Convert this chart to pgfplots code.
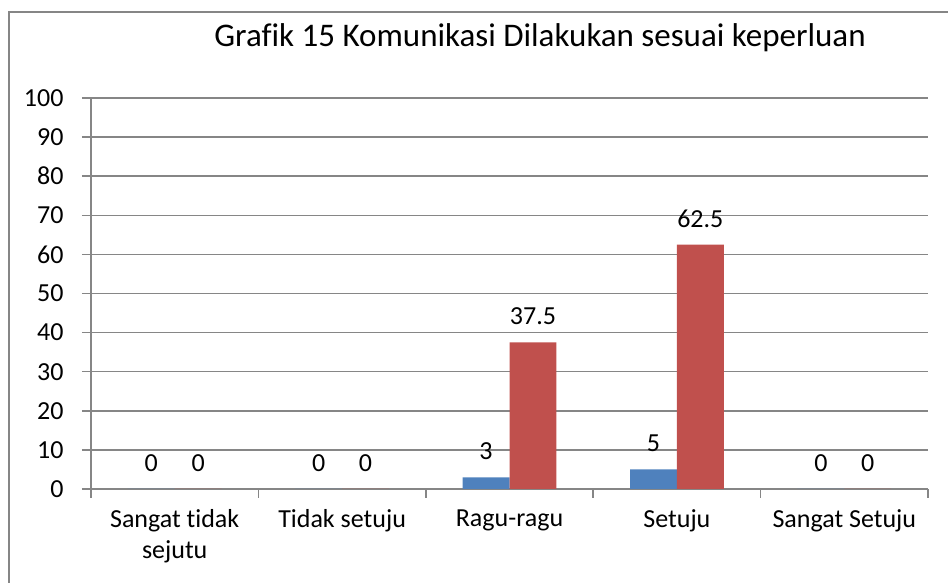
\documentclass[border=0pt]{standalone}
\usepackage{pgfplots}
\pgfplotsset{compat=1.18}
\usepackage{fontspec}
\setmainfont[Ligatures=NoCommon]{Carlito}
\definecolor{gline}{HTML}{868686}
\definecolor{sblue}{HTML}{4F81BD}
\definecolor{sred}{HTML}{C0504D}
\begin{document}
\begin{tikzpicture}
\path[use as bounding box] (0,0) rectangle (948pt,583pt);
\draw[gline, line width=2pt] (9pt,0) -- (9pt,571pt) -- (948pt,571pt);
\node[font=\fontsize{33}{38}\selectfont] at (540pt,545pt) {Grafik 15 Komunikasi Dilakukan sesuai keperluan};
\begin{axis}[
  at={(91pt,94pt)}, anchor=south west,
  scale only axis, width=837pt, height=391pt,
  xmin=-0.5, xmax=4.5, ymin=0, ymax=100,
  ytick={0,10,...,100},
  /pgf/number format/assume math mode=true,
  ymajorgrids, grid style={gline, line width=1.5pt},
  axis x line*=bottom, axis y line*=left,
  axis line style={gline, line width=1.5pt},
  tick style={gline, line width=1.5pt},
  tick align=outside, major tick length=9pt,
  xtick={-0.5,0.5,...,4.5}, xticklabels={},
  extra x ticks={0,1,2,3,4},
  extra x tick labels={{Sangat tidak\\sejutu},{Tidak setuju},{Ragu-ragu},{Setuju},{Sangat Setuju}},
  extra x tick style={major tick length=0pt, xticklabel style={align=center, yshift=-17pt}},
  ticklabel style={font=\fontsize{26}{31}\selectfont, text=black},
  yticklabel style={xshift=-15pt},
  ybar=0pt, bar width=0.28,
  nodes near coords,
  every node near coord/.append style={font=\fontsize{26}{30}\selectfont, text=black, anchor=center, yshift=26pt},
]
\addplot[fill=sblue, draw=none] coordinates {(0,0) (1,0) (2,3) (3,5) (4,0)};
\addplot[fill=sred, draw=none] coordinates {(0,0) (1,0) (2,37.5) (3,62.5) (4,0)};
\end{axis}
\end{tikzpicture}
\end{document}
